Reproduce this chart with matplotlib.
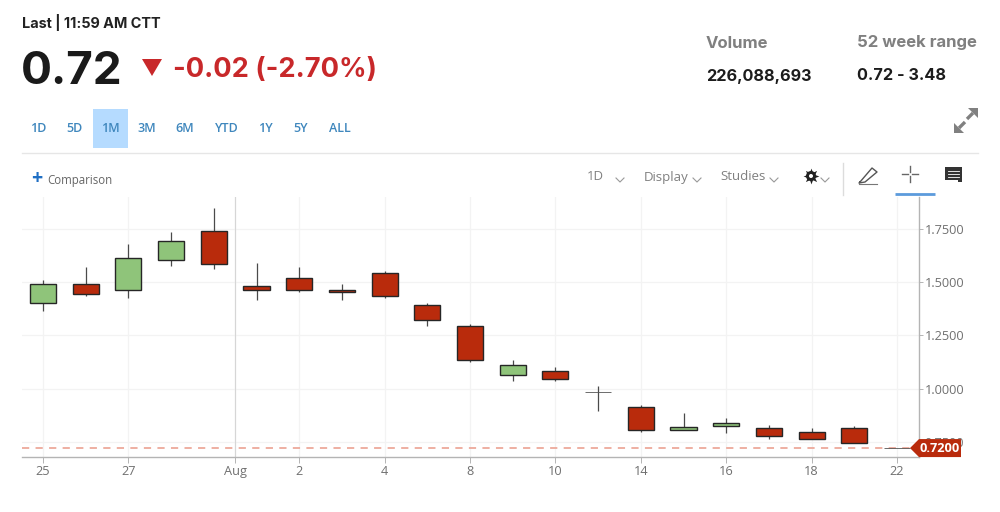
import matplotlib
matplotlib.use("Agg")
import matplotlib.pyplot as plt
from matplotlib.patches import Rectangle, Polygon, Circle

# Daily candles, oldest first
opens = [1.401, 1.490, 1.462, 1.603, 1.740, 1.481, 1.519, 1.464, 1.542, 1.393, 1.294,
         1.064, 1.082, 0.985, 0.914, 0.805, 0.823, 0.816, 0.794, 0.816, 0.720]
closes = [1.490, 1.443, 1.613, 1.693, 1.584, 1.462, 1.462, 1.453, 1.434, 1.321, 1.134,
          1.110, 1.045, 0.985, 0.805, 0.817, 0.836, 0.778, 0.764, 0.745, 0.720]
highs = [1.511, 1.570, 1.679, 1.738, 1.848, 1.589, 1.570, 1.490, 1.553, 1.401, 1.304,
         1.136, 1.101, 1.013, 0.922, 0.883, 0.863, 0.827, 0.816, 0.825, 0.720]
lows = [1.365, 1.435, 1.424, 1.575, 1.561, 1.415, 1.453, 1.416, 1.424, 1.293, 1.125,
        1.035, 1.035, 0.896, 0.797, 0.803, 0.789, 0.764, 0.764, 0.745, 0.720]
body_up = [True, False, True, True, False, False, False, False, False, False, False,
           True, False, True, False, True, True, False, False, False, False]

x_tick_positions = [0, 2, 4.5, 6, 8, 10, 12, 14, 16, 18, 20]
x_tick_labels = ["25", "27", "Aug", "2", "4", "8", "10", "14", "16", "18", "22"]
y_ticks = [0.75, 1.00, 1.25, 1.50, 1.75]
last_price = 0.72

range_buttons = ["1D", "5D", "1M", "3M", "6M", "YTD", "1Y", "5Y", "ALL"]
range_centers = [38, 74, 110, 147, 185, 227, 265.5, 300.5, 339.5]

RED = "#b92b0c"
GREEN = "#8fc47a"
EDGE = "#262626"
HEAD = "Inter"
plt.rcParams["font.family"] = ["Open Sans", "DejaVu Sans"]

W, H = 1000, 512
fig = plt.figure(figsize=(W / 100, H / 100), dpi=100, facecolor="white")

# Full-figure layer in pixel units for the page furniture around the chart
ui = fig.add_axes([0, 0, 1, 1], zorder=0)
ui.set_xlim(0, W)
ui.set_ylim(H, 0)
ui.axis("off")

ax = fig.add_axes([22 / W, (H - 457) / H, 897 / W, 260 / H], zorder=1)
ax.patch.set_alpha(0)
ax.set_xlim(-0.492, 20.515)
ax.set_ylim(0.678, 1.901)

for s in ("top", "left"):
    ax.spines[s].set_visible(False)
for s in ("right", "bottom"):
    ax.spines[s].set_color("#b4b4b4")
    ax.spines[s].set_linewidth(1)

ax.yaxis.tick_right()
ax.set_yticks(y_ticks)
ax.set_yticklabels([f"{v:.4f}" for v in y_ticks], fontsize=9.2, color="#707070")
ax.set_xticks(x_tick_positions)
ax.set_xticklabels(x_tick_labels, fontsize=9.2, color="#707070")
ax.tick_params(axis="y", length=3, width=0.7, color="#b4b4b4", pad=1)
ax.tick_params(axis="x", length=4, width=0.7, color="#b4b4b4", pad=2)

ax.grid(True, color="#f3f3f3", linewidth=0.9)
ax.set_axisbelow(True)
ax.axvline(4.5, color="#d6d6d6", linewidth=0.8, zorder=1)
ax.axhline(last_price, color="#eda99b", linewidth=1.3, dashes=(4, 3.5), zorder=1.5)

# Candles
body_width = 0.61
for i, (o, c, h, l, up) in enumerate(zip(opens, closes, highs, lows, body_up)):
    ax.plot([i, i], [l, h], color="#4a4a4a", linewidth=0.9, zorder=2, solid_capstyle="butt")
    bottom, top = min(o, c), max(o, c)
    doji = top == bottom
    ax.add_patch(Rectangle((i - body_width / 2, bottom), body_width, top - bottom,
                           facecolor=GREEN if up else RED,
                           edgecolor="#555555" if doji else EDGE,
                           linewidth=0.6 if doji else 1, zorder=3))

# Last-price flag on the value axis
fig.canvas.draw()
py = H - ax.transData.transform((0, last_price))[1]
flag_layer = fig.add_axes([0, 0, 1, 1], zorder=2)
flag_layer.set_xlim(0, W)
flag_layer.set_ylim(H, 0)
flag_layer.axis("off")
flag_layer.add_patch(Polygon([(910, py), (919, py - 9), (961, py - 9), (961, py + 9), (919, py + 9)],
                             closed=True, facecolor=RED, edgecolor="none", zorder=5))
flag_layer.text(939.5, py, f"{last_price:.4f}", color="white", fontsize=9.2, fontweight="bold",
                ha="center", va="center", zorder=6)

# Quote header
ui.text(22, 22.5, "Last | 11:59 AM CTT", fontsize=10.4, fontweight="bold", color="#222222",
        va="center", family=HEAD)
ui.text(21, 72, "0.72", fontsize=33, fontweight="bold", color="#1a1a1a", va="center", family=HEAD)
ui.add_patch(Polygon([(142, 59), (162, 59), (152, 76)], facecolor="#c8282a", edgecolor="none"))
ui.text(173, 70, "-0.02 (-2.70%)", fontsize=19.6, fontweight="bold", color="#c8282a",
        va="center", family=HEAD)
ui.text(706, 43.5, "Volume", fontsize=12, fontweight="bold", color="#808080", va="center", family=HEAD)
ui.text(857, 42.5, "52 week range", fontsize=12, fontweight="bold", color="#808080", va="center", family=HEAD)
ui.text(706, 76, "226,088,693", fontsize=11.7, fontweight="bold", color="#1c1c1c", va="center", family=HEAD)
ui.text(857, 76, "0.72 - 3.48", fontsize=11.7, fontweight="bold", color="#1c1c1c", va="center", family=HEAD)

# Range selector
ui.add_patch(Rectangle((93, 109), 35, 39, facecolor="#b5dbff", edgecolor="none"))
for label, cx in zip(range_buttons, range_centers):
    ui.text(cx, 128, label, fontsize=9, color="#3f87bd", ha="center", va="center",
            fontweight="semibold")
ui.plot([22, 978], [153, 153], color="#e6e6e6", linewidth=1)

# Toolbar
ui.text(37, 179, "+", fontsize=14, color="#1f6fc4", ha="center", va="center", fontweight="bold")
ui.text(47, 180.5, "Comparison", fontsize=8.3, color="#666666", va="center")
for label, x0 in [("1D", 587), ("Display", 644), ("Studies", 720)]:
    ui.text(x0, 177, label, fontsize=9.5, color="#808080", va="center")
for cx in (620, 697, 774, 825):
    ui.plot([cx - 4, cx, cx + 4], [178, 182, 178], color="#999999", linewidth=0.8)

# Gear icon
ui.scatter([811], [176], marker=(8, 1, 0), s=130, color="#222222", linewidths=0)
ui.add_patch(Circle((811, 176), 5, facecolor="#222222", edgecolor="none", zorder=3))
ui.add_patch(Circle((811, 176), 2, facecolor="white", edgecolor="none", zorder=4))
ui.plot([843, 843], [163, 195], color="#dcdcdc", linewidth=1)

# Pencil icon
ui.plot([860, 872, 877, 865, 859, 860], [182, 168, 172, 182, 183, 182], color="#555555", linewidth=1)
ui.plot([859, 877], [184, 184], color="#777777", linewidth=0.8)

# Crosshair icon and its active underline
ui.plot([902, 908], [174, 174], color="#666666", linewidth=1)
ui.plot([912, 918], [174, 174], color="#666666", linewidth=1)
ui.plot([910, 910], [166, 172], color="#666666", linewidth=1)
ui.plot([910, 910], [176, 182], color="#666666", linewidth=1)
ui.plot([895, 935], [193.5, 193.5], color="#5c9bdc", linewidth=2, solid_capstyle="butt")

# Comment icon
ui.add_patch(Polygon([(945, 167), (962, 167), (962, 182), (958, 182), (958, 180), (945, 180)],
                     facecolor="#333333", edgecolor="none"))
for yy in (170.5, 173.5, 176.5):
    ui.plot([948, 959], [yy, yy], color="white", linewidth=0.6)

# Expand icon
ui.add_patch(Polygon([(978, 108), (968, 108), (978, 118)], facecolor="#808080", edgecolor="none"))
ui.add_patch(Polygon([(954, 133), (964, 133), (954, 123)], facecolor="#808080", edgecolor="none"))
ui.plot([973, 967], [113, 119], color="#808080", linewidth=2.4, solid_capstyle="butt")
ui.plot([959, 965], [128, 122], color="#808080", linewidth=2.4, solid_capstyle="butt")

fig.savefig("out.png", dpi=100, facecolor="white")
